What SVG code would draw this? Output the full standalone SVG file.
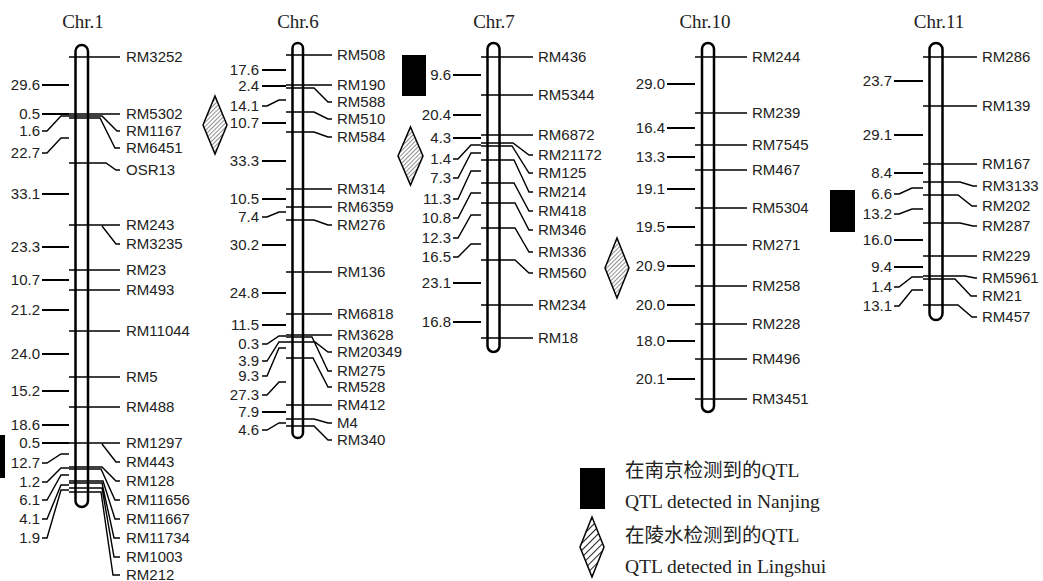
<svg xmlns="http://www.w3.org/2000/svg" width="1043" height="581" viewBox="0 0 1043 581">
<style>
.bar{fill:#fff;stroke:#000;stroke-width:2.5}
.t{fill:none;stroke:#000;stroke-width:1.4}
.d{fill:none;stroke:#000;stroke-width:1.4}
.ds{fill:none;stroke:#000;stroke-width:2}
.lb{font-family:"Liberation Sans",Arial,sans-serif;font-size:15px;fill:#222}
.dl{font-family:"Liberation Sans",Arial,sans-serif;font-size:15px;fill:#222;text-anchor:end}
.ti{font-family:"Liberation Serif","Times New Roman",serif;font-size:19px;fill:#222;text-anchor:middle}
.lg{font-family:"Liberation Serif","Noto Sans CJK SC",serif;font-size:19.5px;fill:#222}
.dia{fill:url(#hatch);stroke:#000;stroke-width:1.5}
.dia2{fill:url(#hatch2);stroke:#000;stroke-width:1.5}
</style>
<defs>
<pattern id="hatch" width="3" height="3" patternUnits="userSpaceOnUse" patternTransform="rotate(45)">
<rect width="3" height="3" fill="#fff"/>
<line x1="0" y1="0" x2="0" y2="3" stroke="#444" stroke-width="1.2"/>
</pattern>
<pattern id="hatch2" width="5" height="5" patternUnits="userSpaceOnUse" patternTransform="rotate(45)">
<rect width="5" height="5" fill="#fff"/>
<line x1="0" y1="0" x2="0" y2="5" stroke="#222" stroke-width="2"/>
</pattern>
</defs>
<rect width="1043" height="581" fill="#fff"/>

<!-- Chr.1 -->
<g id="chr1">
<text class="ti" x="83" y="28">Chr.1</text>
<rect class="bar" x="75.5" y="45" width="12.5" height="462" rx="6.25"/>
<g id="chr1-connectors">
<path class="t" d="M69,57H120M69,114H120M69,116H102L117,131H120M69,118H100L115,148H120M69,163H106L116,170H120M69,225H120M102,226L116,244H120M69,270H120M69,290H120M69,331H120M69,377H120M69,407H120M69,443H120M102,444L116,462H120M69,467H102L116,481H120M69,469H101L115,500H120M69,481H103L115,519H120M69,483H102L114,538H120M69,488H102L114,557H120M69,492H101L113,575H120"/>
<path class="ds" d="M42,85H69M42,114H69M42,194H69M42,247H69M42,280H69M42,310H69M42,354H69M42,391H69M42,425H69M42,443H69"/>
<path class="d" d="M42,131H47L61,116H69M42,153H47L61,138H69M42,463H47L61,454H69M42,482H47L61,468H69M42,500H47L61,475H69M42,519H47L61,485H69M42,538H47L61,490H69"/>
</g>
<g class="lb">
<text x="126" y="62">RM3252</text><text x="126" y="119">RM5302</text><text x="126" y="136">RM1167</text><text x="126" y="153">RM6451</text><text x="126" y="175">OSR13</text><text x="126" y="230">RM243</text><text x="126" y="249">RM3235</text><text x="126" y="275">RM23</text><text x="126" y="295">RM493</text><text x="126" y="336">RM11044</text><text x="126" y="382">RM5</text><text x="126" y="412">RM488</text><text x="126" y="448">RM1297</text><text x="126" y="467">RM443</text><text x="126" y="486">RM128</text><text x="126" y="505">RM11656</text><text x="126" y="524">RM11667</text><text x="126" y="543">RM11734</text><text x="126" y="562">RM1003</text><text x="126" y="580">RM212</text>
</g>
<g class="dl">
<text x="40" y="90">29.6</text><text x="40" y="119">0.5</text><text x="40" y="136">1.6</text><text x="40" y="158">22.7</text><text x="40" y="199">33.1</text><text x="40" y="252">23.3</text><text x="40" y="285">10.7</text><text x="40" y="315">21.2</text><text x="40" y="359">24.0</text><text x="40" y="396">15.2</text><text x="40" y="430">18.6</text><text x="40" y="448">0.5</text><text x="40" y="468">12.7</text><text x="40" y="487">1.2</text><text x="40" y="505">6.1</text><text x="40" y="524">4.1</text><text x="40" y="543">1.9</text>
</g>
<rect x="0" y="435" width="5" height="43" fill="#000"/>
</g>

<!-- Chr.6 -->
<g id="chr6">
<text class="ti" x="298" y="28">Chr.6</text>
<rect class="bar" x="292.5" y="43" width="10.5" height="395" rx="5.25"/>
<g id="chr6-connectors">
<path class="t" d="M286,55H332M286,85H332M286,88H314L328,102H332M286,112H314L328,119H332M286,132H314L328,137H332M286,189H332M286,207H332M286,220H314L328,225H332M286,272H332M286,314H332M286,335H332M286,342H315L328,352H332M286,337H312L328,371H332M286,358H313L328,387H332M286,405H332M286,419H314L328,423H332M286,426H314L328,440H332"/>
<path class="ds" d="M262,70H286M262,86H286M262,123H286M262,161H286M262,199H286M262,245H286M262,293H286M262,325H286M262,412H286"/>
<path class="d" d="M262,106H267L279,100H286M262,217H267L279,212H286M262,344H267L279,336H286M262,361H267L279,342H286M262,376H267L279,348H286M262,395H267L279,382H286M262,430H267L279,423H286"/>
</g>
<g class="lb">
<text x="337" y="60">RM508</text><text x="337" y="90">RM190</text><text x="337" y="107">RM588</text><text x="337" y="124">RM510</text><text x="337" y="142">RM584</text><text x="337" y="194">RM314</text><text x="337" y="212">RM6359</text><text x="337" y="230">RM276</text><text x="337" y="277">RM136</text><text x="337" y="319">RM6818</text><text x="337" y="340">RM3628</text><text x="337" y="357">RM20349</text><text x="337" y="376">RM275</text><text x="337" y="392">RM528</text><text x="337" y="410">RM412</text><text x="337" y="428">M4</text><text x="337" y="445">RM340</text>
</g>
<g class="dl">
<text x="259" y="75">17.6</text><text x="259" y="91">2.4</text><text x="259" y="111">14.1</text><text x="259" y="128">10.7</text><text x="259" y="166">33.3</text><text x="259" y="204">10.5</text><text x="259" y="222">7.4</text><text x="259" y="250">30.2</text><text x="259" y="298">24.8</text><text x="259" y="330">11.5</text><text x="259" y="349">0.3</text><text x="259" y="366">3.9</text><text x="259" y="381">9.3</text><text x="259" y="400">27.3</text><text x="259" y="417">7.9</text><text x="259" y="435">4.6</text>
</g>
<path class="dia" d="M215,96L227,125L215,154L203,125Z"/>
</g>

<!-- Chr.7 -->
<g id="chr7">
<text class="ti" x="494" y="28">Chr.7</text>
<rect class="bar" x="487.5" y="43" width="12" height="309" rx="6"/>
<g id="chr7-connectors">
<path class="t" d="M481,57H533M481,95H533M481,135H533M481,143H513L529,155H533M481,146H512L529,173H533M481,160H514L529,192H533M481,183H514L529,211H533M481,203H515L529,230H533M481,228H515L529,252H533M481,260H515L529,273H533M481,305H533M481,338H533"/>
<path class="ds" d="M453,75H481M453,115H481M453,138H481M453,283H481M453,322H481"/>
<path class="d" d="M453,159H458L471,145H481M453,178H458L471,153H481M453,199H458L471,171H481M453,218H458L471,193H481M453,238H458L471,215H481M453,257H458L471,244H481"/>
</g>
<g class="lb">
<text x="538" y="62">RM436</text><text x="538" y="100">RM5344</text><text x="538" y="140">RM6872</text><text x="538" y="160">RM21172</text><text x="538" y="178">RM125</text><text x="538" y="197">RM214</text><text x="538" y="216">RM418</text><text x="538" y="235">RM346</text><text x="538" y="257">RM336</text><text x="538" y="278">RM560</text><text x="538" y="310">RM234</text><text x="538" y="343">RM18</text>
</g>
<g class="dl">
<text x="451" y="80">9.6</text><text x="451" y="120">20.4</text><text x="451" y="143">4.3</text><text x="451" y="164">1.4</text><text x="451" y="183">7.3</text><text x="451" y="204">11.3</text><text x="451" y="223">10.8</text><text x="451" y="243">12.3</text><text x="451" y="262">16.5</text><text x="451" y="288">23.1</text><text x="451" y="327">16.8</text>
</g>
<rect x="402" y="55" width="24" height="41" fill="#000"/>
<path class="dia" d="M410.5,127L423,156L410.5,185L398,156Z"/>
</g>

<!-- Chr.10 -->
<g id="chr10">
<text class="ti" x="705" y="28">Chr.10</text>
<rect class="bar" x="702" y="43" width="12" height="369" rx="6"/>
<g id="chr10-connectors">
<path class="t" d="M695,57H747M695,113H747M695,145H747M695,170H747M695,208H747M695,245H747M695,286H747M695,324H747M695,359H747M695,399H747"/>
<path class="ds" d="M667,84H695M667,128H695M667,157H695M667,189H695M667,227H695M667,266H695M667,305H695M667,341H695M667,379H695"/>
</g>
<g class="lb">
<text x="752" y="62">RM244</text><text x="752" y="118">RM239</text><text x="752" y="150">RM7545</text><text x="752" y="175">RM467</text><text x="752" y="213">RM5304</text><text x="752" y="250">RM271</text><text x="752" y="291">RM258</text><text x="752" y="329">RM228</text><text x="752" y="364">RM496</text><text x="752" y="404">RM3451</text>
</g>
<g class="dl">
<text x="665" y="89">29.0</text><text x="665" y="133">16.4</text><text x="665" y="162">13.3</text><text x="665" y="194">19.1</text><text x="665" y="232">19.5</text><text x="665" y="271">20.9</text><text x="665" y="310">20.0</text><text x="665" y="346">18.0</text><text x="665" y="384">20.1</text>
</g>
<path class="dia" d="M617,238L629,268L617,298L605,268Z"/>
</g>

<!-- Chr.11 -->
<g id="chr11">
<text class="ti" x="939" y="28">Chr.11</text>
<rect class="bar" x="929.5" y="43" width="13" height="277" rx="6.5"/>
<g id="chr11-connectors">
<path class="t" d="M923,57H977M923,106H977M923,164H977M923,182H960L973,186H977M923,195H958L972,206H977M923,223H960L973,226H977M923,256H977M923,276H965L975,278H977M923,279H955L971,296H977M923,305H958L972,317H977"/>
<path class="ds" d="M894,81H923M894,135H923M894,173H923M894,240H923M894,267H923"/>
<path class="d" d="M894,194H899L912,188H923M894,214H899L912,209H923M894,287H899L912,277H923M894,306H899L912,290H923"/>
</g>
<g class="lb">
<text x="982" y="62">RM286</text><text x="982" y="111">RM139</text><text x="982" y="169">RM167</text><text x="982" y="191">RM3133</text><text x="982" y="211">RM202</text><text x="982" y="231">RM287</text><text x="982" y="261">RM229</text><text x="982" y="283">RM5961</text><text x="982" y="301">RM21</text><text x="982" y="322">RM457</text>
</g>
<g class="dl">
<text x="892" y="86">23.7</text><text x="892" y="140">29.1</text><text x="892" y="178">8.4</text><text x="892" y="199">6.6</text><text x="892" y="219">13.2</text><text x="892" y="245">16.0</text><text x="892" y="272">9.4</text><text x="892" y="292">1.4</text><text x="892" y="311">13.1</text>
</g>
<rect x="830" y="190" width="25" height="42" fill="#000"/>
</g>

<!-- Legend -->
<g id="legend">
<rect x="580" y="468" width="25" height="41" fill="#000"/>
<path class="dia2" d="M592,517L604,547L592,577L580,547Z"/>
<text class="lg" x="625" y="477">在南京检测到的QTL</text>
<text class="lg" x="625" y="508">QTL detected in Nanjing</text>
<text class="lg" x="625" y="542">在陵水检测到的QTL</text>
<text class="lg" x="625" y="573">QTL detected in Lingshui</text>
</g>
</svg>
